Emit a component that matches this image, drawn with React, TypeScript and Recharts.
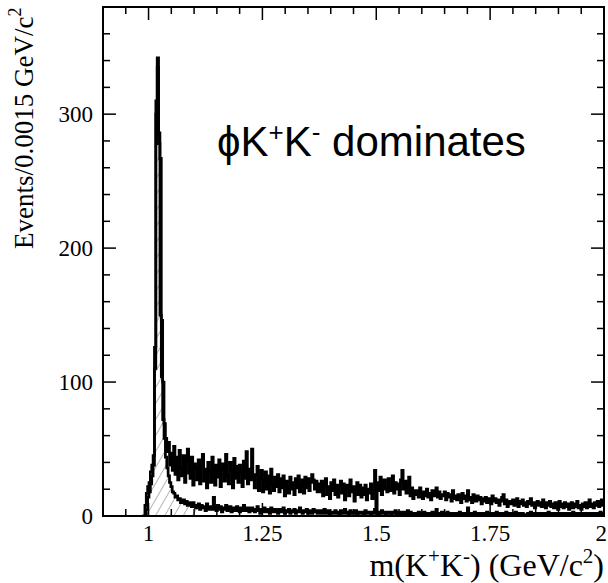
import { Area, ComposedChart, Line, ReferenceArea, XAxis, YAxis } from "recharts"

// m(K+K-) histogram, bins of 0.003 GeV/c^2 starting at 0.986
const massLow = 0.986
const binWidth = 0.003

// all candidates
const allEvents = [
  0, 0, 8, 17, 22, 25, 33, 38, 45, 126,
  310, 342, 286, 267, 146, 100, 69, 58, 48, 55,
  38, 47, 34, 52, 31, 44, 27, 49, 36, 30,
  45, 25, 41, 50, 32, 28, 44, 23, 39, 36,
  27, 42, 24, 39, 46, 26, 35, 21, 40, 33,
  25, 44, 36, 23, 38, 29, 42, 22, 35, 39,
  26, 46, 30, 24, 40, 34, 21, 43, 28, 37,
  25, 38, 33, 22, 41, 28, 48, 24, 35, 27,
  50, 30, 21, 31, 37, 19, 28, 34, 18, 27,
  33, 20, 30, 17, 35, 24, 19, 29, 22, 31,
  18, 28, 21, 30, 15, 26, 22, 17, 29, 20,
  25, 16, 28, 21, 30, 18, 24, 27, 17, 29,
  21, 28, 19, 25, 31, 27, 20, 26, 18, 24,
  18, 26, 15, 23, 28, 16, 22, 13, 25, 19,
  27, 16, 23, 14, 22, 26, 17, 24, 12, 21,
  23, 15, 27, 18, 22, 11, 21, 25, 16, 23,
  14, 21, 16, 23, 12, 20, 17, 24, 13, 19,
  34, 3, 25, 19, 29, 16, 24, 27, 20, 18,
  28, 21, 19, 30, 17, 25, 20, 24, 16, 27,
  34, 20, 26, 17, 23, 29, 15, 21, 13, 19,
  16, 19, 14, 21, 17, 13, 18, 15, 20, 14,
  17, 12, 19, 15, 16, 21, 14, 18, 13, 16,
  15, 18, 12, 17, 14, 16, 11, 19, 13, 15,
  12, 16, 14, 10, 17, 13, 15, 11, 19, 12,
  14, 10, 16, 13, 11, 15, 12, 14, 9, 13,
  11, 14, 10, 13, 12, 9, 15, 11, 13, 10,
  12, 8, 11, 14, 16, 9, 12, 7, 10, 11,
  9, 12, 8, 10, 13, 7, 11, 9, 12, 8,
  10, 7, 11, 9, 13, 8, 10, 6, 9, 11,
  8, 10, 7, 12, 9, 6, 10, 8, 11, 7,
  9, 6, 10, 8, 5, 11, 7, 9, 6, 10,
  7, 9, 5, 8, 10, 6, 9, 7, 11, 6,
  8, 5, 9, 7, 10, 6, 8, 12, 7, 9,
  6, 10, 8, 11, 7, 9, 12, 8,
]

// phi-selected candidates
const phiEvents = [
  0, 0, 0, 5, 14, 18, 24, 30, 38, 110,
  300, 335, 278, 150, 104, 72, 58, 44, 36, 30,
  25, 22, 18, 17, 14, 15, 12, 13, 10, 11,
  12, 9, 11, 8, 10, 9, 7, 10, 8, 6,
  7, 9, 5, 8, 6, 7, 4, 9, 6, 5,
  7, 5, 14, 6, 4, 8, 5, 7, 3, 6,
  5, 8, 4, 6, 7, 3, 5, 6, 4, 7,
  5, 3, 6, 4, 8, 5, 4, 6, 3, 5,
  6, 4, 3, 5, 7, 4, 2, 5, 3, 6,
  4, 3, 5, 2, 6, 4, 3, 5, 4, 2,
  5, 3, 4, 6, 2, 4, 3, 5, 2, 4,
  3, 5, 2, 4, 3, 6, 3, 2, 4, 3,
  5, 2, 4, 3, 2, 5, 3, 4, 2, 3,
  4, 2, 3, 5, 2, 3, 4, 1, 3, 2,
  3, 4, 2, 3, 1, 4, 2, 3, 5, 2,
  3, 1, 4, 2, 3, 2, 4, 1, 3, 2,
  2, 3, 1, 4, 2, 3, 2, 1, 3, 2,
  5, 2, 3, 1, 2, 4, 2, 3, 1, 2,
  3, 2, 1, 3, 2, 4, 1, 2, 3, 1,
  2, 3, 1, 2, 4, 1, 3, 2, 1, 2,
  1, 2, 3, 1, 2, 1, 3, 2, 1, 2,
  2, 1, 3, 1, 2, 5, 1, 2, 1, 3,
  1, 2, 1, 3, 2, 1, 2, 1, 2, 1,
  2, 1, 3, 1, 2, 1, 1, 2, 6, 1,
  1, 2, 1, 3, 1, 2, 1, 2, 1, 1,
  2, 1, 3, 1, 2, 1, 1, 2, 1, 3,
  1, 2, 1, 1, 2, 1, 3, 1, 2, 1,
  1, 2, 1, 3, 1, 1, 2, 1, 2, 1,
  1, 1, 2, 1, 3, 1, 2, 1, 1, 2,
  1, 2, 1, 1, 2, 1, 1, 3, 1, 1,
  2, 1, 1, 2, 1, 1, 2, 1, 1, 2,
  1, 1, 2, 1, 1, 3, 1, 1, 2, 1,
  1, 2, 1, 1, 2, 1, 1, 2, 1, 1,
  2, 1, 1, 2, 1, 3, 1, 2,
]

// hatched phi component stops after this bin
const hatchLastBin = 43

const xTicks = [
  0.9, 0.95, 1, 1.05, 1.1, 1.15, 1.2, 1.25, 1.3, 1.35, 1.4, 1.45,
  1.5, 1.55, 1.6, 1.65, 1.7, 1.75, 1.8, 1.85, 1.9, 1.95, 2,
]
const xLabels = ["1", "1.25", "1.5", "1.75", "2"]
const yTicks = [
  0, 20, 40, 60, 80, 100, 120, 140, 160, 180, 200,
  220, 240, 260, 280, 300, 320, 340, 360, 380,
]
const yLabels = ["0", "100", "200", "300"]

const W = 608
const H = 583
const plotTop = 7
const plotRight = 604
const plotLeft = 103
const plotBottom = 516

const serif = "'Liberation Serif', 'Times New Roman', serif"
const sans = "'Liberation Sans', Arial, sans-serif"

const chartData = allEvents.map((v, i) => ({
  m: +(massLow + i * binWidth).toFixed(4),
  all: v,
  phi: phiEvents[i],
  hatch: i <= hatchLastBin ? phiEvents[i] : null,
}))
chartData.push({
  m: 2,
  all: allEvents[allEvents.length - 1],
  phi: phiEvents[phiEvents.length - 1],
  hatch: null,
})

function fmtX(v: number) {
  return String(+v.toFixed(2))
}

// ticks point inwards on both the bottom and top frame edges
const XTick = (props: any) => {
  const { x, y, payload } = props
  const label = fmtX(payload.value)
  const major = xLabels.includes(label)
  const len = major ? 13 : 7
  // the last label sits on the page edge, so keep it inside
  const atEdge = x > W - 12
  return (
    <g>
      <line x1={x} y1={y} x2={x} y2={y - len} stroke="#000" strokeWidth={1.5} />
      <line x1={x} y1={plotTop} x2={x} y2={plotTop + len} stroke="#000" strokeWidth={1.5} />
      {major && (
        <text
          x={atEdge ? W - 1 : x}
          y={y + 25}
          textAnchor={atEdge ? "end" : "middle"}
          fontFamily={serif}
          fontSize={23}
          fill="#000"
        >
          {label}
        </text>
      )}
    </g>
  )
}

// same on the left and right edges
const YTick = (props: any) => {
  const { x, y, payload } = props
  const label = String(payload.value)
  const major = yLabels.includes(label)
  const len = major ? 13 : 7
  return (
    <g>
      <line x1={x} y1={y} x2={x + len} y2={y} stroke="#000" strokeWidth={1.5} />
      <line x1={plotRight} y1={y} x2={plotRight - len} y2={y} stroke="#000" strokeWidth={1.5} />
      {major && (
        <text x={x - 10} y={y} dy="0.35em" textAnchor="end" fontFamily={serif} fontSize={23} fill="#000">
          {label}
        </text>
      )}
    </g>
  )
}

export default function App() {
  return (
    <div style={{ position: "absolute", left: 0, top: 0, width: W, height: H, background: "#fff" }}>
      <ComposedChart
        width={W}
        height={H}
        data={chartData}
        margin={{ top: plotTop, right: W - plotRight, bottom: 0, left: 0 }}
      >
        <defs>
          <pattern
            id="hatch"
            width="8"
            height="8"
            patternUnits="userSpaceOnUse"
            patternTransform="rotate(30)"
          >
            <line x1="0" y1="0" x2="0" y2="8" stroke="#444" strokeWidth="0.8" />
          </pattern>
        </defs>
        <XAxis
          type="number"
          dataKey="m"
          domain={[0.9, 2]}
          allowDataOverflow
          ticks={xTicks}
          interval={0}
          tick={<XTick />}
          tickSize={0}
          tickMargin={0}
          tickLine={false}
          axisLine={false}
          height={H - plotBottom}
        />
        <YAxis
          type="number"
          domain={[0, 380]}
          allowDataOverflow
          ticks={yTicks}
          interval={0}
          tick={<YTick />}
          tickSize={0}
          tickMargin={0}
          tickLine={false}
          axisLine={false}
          width={plotLeft}
        />
        <Area
          type="stepAfter"
          dataKey="hatch"
          stroke="none"
          fill="url(#hatch)"
          fillOpacity={1}
          isAnimationActive={false}
        />
        <Line
          type="stepAfter"
          dataKey="phi"
          stroke="#000"
          strokeWidth={2.7}
          dot={false}
          activeDot={false}
          isAnimationActive={false}
        />
        <Line
          type="stepAfter"
          dataKey="all"
          stroke="#000"
          strokeWidth={2.7}
          dot={false}
          activeDot={false}
          isAnimationActive={false}
        />
        <ReferenceArea x1={0.9} x2={2} y1={0} y2={380} fill="none" stroke="#000" strokeWidth={2} />
      </ComposedChart>
      <svg
        width={W}
        height={H}
        style={{ position: "absolute", left: 0, top: 0, pointerEvents: "none" }}
      >
        <text x={217} y={156} fontFamily={sans} fontSize={42} fill="#000">
          ϕK
          <tspan dy={-15} fontSize={26}>+</tspan>
          <tspan dy={15}>K</tspan>
          <tspan dy={-15} fontSize={26}>-</tspan>
          <tspan dy={15}> dominates</tspan>
        </text>
        <text
          transform="translate(33, 249) rotate(-90)"
          fontFamily={serif}
          fontSize={27}
          fill="#000"
        >
          Events/0.0015 GeV/c
          <tspan dy={-12} fontSize={18}>2</tspan>
        </text>
        <text x={604} y={576} textAnchor="end" fontFamily={serif} fontSize={32} fill="#000">
          m(K
          <tspan dy={-13} fontSize={21}>+</tspan>
          <tspan dy={13}>K</tspan>
          <tspan dy={-13} fontSize={21}>-</tspan>
          <tspan dy={13}>) (GeV/c</tspan>
          <tspan dy={-13} fontSize={21}>2</tspan>
          <tspan dy={13}>)</tspan>
        </text>
      </svg>
    </div>
  )
}
